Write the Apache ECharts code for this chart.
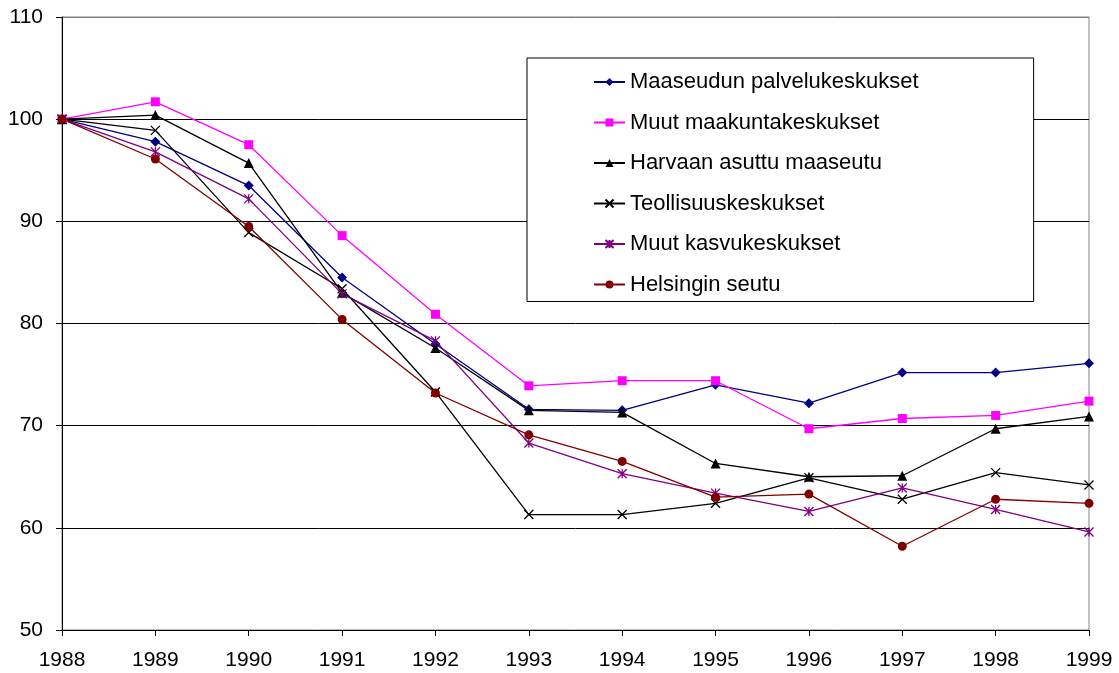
<!DOCTYPE html>
<html lang="fi">
<head>
  <meta charset="UTF-8">
  <title>Indeksi 1988-1999</title>
  <script src="https://cdn.jsdelivr.net/npm/echarts@6/dist/echarts.min.js"></script>
  <style>
    html, body { margin: 0; padding: 0; background: #fff; }
    #chart { width: 1119px; height: 673px; }
  </style>
</head>
<body>
<div id="chart"></div>

<script>
  // vuodet
  var years = ['1988', '1989', '1990', '1991', '1992', '1993', '1994', '1995', '1996', '1997', '1998', '1999'];

  // sarjat (luettu kuvasta)
  var maaseudunPalvelukeskukset = [100, 97.8, 93.5, 84.5, 78.0, 71.6, 71.5, 74.0, 72.2, 75.2, 75.2, 76.1];
  var muutMaakuntakeskukset     = [100, 101.7, 97.5, 88.6, 80.9, 73.9, 74.4, 74.4, 69.7, 70.7, 71.0, 72.4];
  var harvaanAsuttuMaaseutu     = [100, 100.4, 95.7, 83.0, 77.6, 71.5, 71.3, 66.3, 65.0, 65.1, 69.7, 70.9];
  var teollisuuskeskukset       = [100, 98.9, 88.9, 83.4, 73.3, 61.3, 61.3, 62.4, 64.9, 62.8, 65.4, 64.2];
  var muutKasvukeskukset        = [100, 96.8, 92.2, 82.9, 78.3, 68.3, 65.3, 63.4, 61.6, 63.9, 61.8, 59.6];
  var helsinginSeutu            = [100, 96.1, 89.5, 80.4, 73.2, 69.1, 66.5, 63.0, 63.3, 58.2, 62.8, 62.4];

  var seriesNames = [
    'Maaseudun palvelukeskukset',
    'Muut maakuntakeskukset',
    'Harvaan asuttu maaseutu',
    'Teollisuuskeskukset',
    'Muut kasvukeskukset',
    'Helsingin seutu'
  ];
  var seriesData = [maaseudunPalvelukeskukset, muutMaakuntakeskukset, harvaanAsuttuMaaseutu,
                    teollisuuskeskukset, muutKasvukeskukset, helsinginSeutu];
  var colors = ['#000080', '#ff00ff', '#000000', '#000000', '#800080', '#800000'];

  var crossPath = 'path://M0,0L10,10M10,0L0,10';
  var starPath = 'path://M0,0L10,10M10,0L0,10M5,0L5,10';
  var symbols = ['diamond', 'rect', 'triangle', crossPath, starPath, 'circle'];
  var sizes = [10, 9, 10, 9, 9, 9];

  var font = '"Liberation Sans", Arial, sans-serif';

  var series = seriesNames.map(function (name, i) {
    var stroked = i === 3 || i === 4;
    return {
      name: name,
      type: 'line',
      data: seriesData[i],
      symbol: symbols[i],
      symbolSize: sizes[i],
      showAllSymbol: true,
      animation: false,
      lineStyle: { color: colors[i], width: 1.3 },
      itemStyle: stroked
        ? { color: colors[i], borderColor: colors[i], borderWidth: 1.3 }
        : { color: colors[i], borderWidth: 0 }
    };
  });

  var myChart = echarts.init(document.getElementById('chart'));

  var option = {
    backgroundColor: '#fff',
    animation: false,
    grid: {
      left: 62,
      right: 30,
      top: 17,
      bottom: 43,
      show: true,
      borderColor: '#808080',
      borderWidth: 1
    },
    legend: {
      orient: 'vertical',
      left: 527,
      top: 58,
      padding: [12, 115, 5, 66],
      itemWidth: 31,
      itemHeight: 10,
      itemGap: 16.5,
      borderColor: '#000',
      borderWidth: 1,
      backgroundColor: '#fff',
      textStyle: { fontFamily: font, fontSize: 22, color: '#000', lineHeight: 24 },
      data: seriesNames
    },
    xAxis: {
      type: 'category',
      data: years,
      boundaryGap: false,
      axisLine: { lineStyle: { color: '#000', width: 1 } },
      axisTick: { alignWithLabel: true, length: 6, lineStyle: { color: '#000' } },
      axisLabel: { fontFamily: font, fontSize: 21, color: '#000', margin: 20 }
    },
    yAxis: {
      type: 'value',
      min: 50,
      max: 110,
      interval: 10,
      axisLine: { show: true, lineStyle: { color: '#000', width: 1 } },
      axisTick: { show: true, length: 6, lineStyle: { color: '#000' } },
      axisLabel: { fontFamily: font, fontSize: 21, color: '#000', margin: 19 },
      splitLine: {
        lineStyle: {
          color: ['#000', '#000', '#000', '#000', '#000', '#000', '#808080'],
          width: 1
        }
      }
    },
    series: series
  };

  myChart.setOption(option);
</script>
</body>
</html>
